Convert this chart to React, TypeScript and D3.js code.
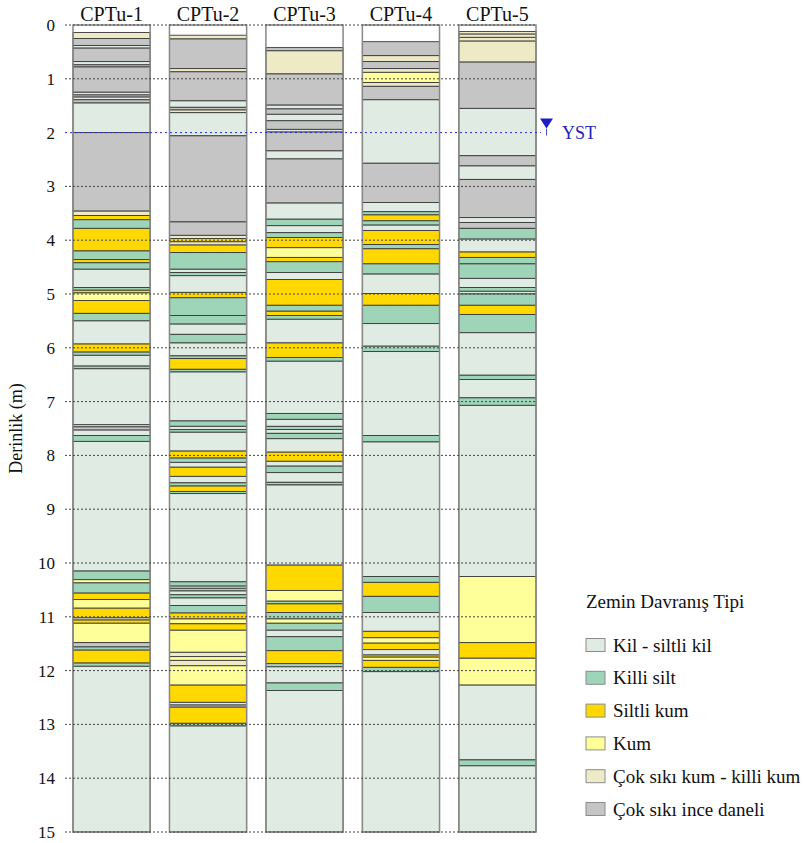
import React from 'react'
import * as d3 from 'd3'

const width = 803
const height = 843
const font = "'Liberation Serif', 'Times New Roman', serif"

const boreholes = ['CPTu-1', 'CPTu-2', 'CPTu-3', 'CPTu-4', 'CPTu-5']
const soilTypes = [
    'Kil - siltli kil',
    'Killi silt',
    'Siltli kum',
    'Kum',
    'Çok sıkı kum - killi kum',
    'Çok sıkı ince daneli',
]
const soilColors = ['#dfebe3', '#9ed4b7', '#ffd800', '#ffff99', '#eeeac5', '#c6c5c6']
const depthTicks = [0, 1, 2, 3, 4, 5, 6, 7, 8, 9, 10, 11, 12, 13, 14, 15]
const maxDepth = 15
const waterTable = 2.0

// [top depth (m), soil type index] - a layer runs down to the next top (or 15 m)
const cptu1 = [
    [0.14, 4], [0.25, 5], [0.38, 0], [0.43, 5], [0.68, 0], [0.74, 5], [0.78, 5],
    [1.25, 0], [1.3, 5], [1.34, 0], [1.39, 5], [1.45, 0], [2.0, 5], [3.46, 4],
    [3.54, 2], [3.62, 1], [3.78, 2], [4.2, 1], [4.36, 2], [4.42, 1], [4.54, 0],
    [4.88, 1], [4.93, 2], [4.98, 3], [5.12, 2], [5.36, 1], [5.5, 0], [5.93, 2],
    [6.08, 1], [6.14, 0], [6.34, 1], [6.39, 0], [7.43, 0], [7.47, 5], [7.53, 0],
    [7.63, 1], [7.74, 0], [10.15, 1], [10.31, 3], [10.37, 1], [10.56, 2], [10.68, 3],
    [10.84, 2], [11.02, 0], [11.06, 2], [11.12, 3], [11.48, 5], [11.56, 1], [11.62, 2],
    [11.86, 1], [11.92, 0],
]
const cptu2 = [
    [0.19, 4], [0.26, 5], [0.81, 4], [0.87, 5], [1.41, 0], [1.53, 5], [1.58, 4],
    [1.63, 0], [2.06, 5], [3.66, 5], [3.91, 4], [3.97, 2], [4.03, 4], [4.09, 2],
    [4.23, 1], [4.54, 0], [4.6, 1], [4.66, 0], [4.97, 2], [5.07, 1], [5.4, 1],
    [5.56, 0], [5.75, 1], [5.91, 0], [6.15, 1], [6.2, 2], [6.4, 1], [6.45, 0],
    [7.36, 1], [7.46, 0], [7.52, 1], [7.57, 0], [7.92, 2], [8.05, 1], [8.13, 0],
    [8.22, 2], [8.39, 0], [8.51, 1], [8.57, 2], [8.67, 1], [8.71, 0], [10.35, 1],
    [10.43, 0], [10.47, 1], [10.52, 0], [10.59, 1], [10.65, 0], [10.79, 1], [10.93, 2],
    [11.04, 3], [11.13, 2], [11.25, 3], [11.66, 4], [11.74, 3], [11.81, 4], [11.91, 3],
    [12.27, 2], [12.59, 0], [12.64, 5], [12.68, 2], [12.98, 1], [13.03, 0],
]
const cptu3 = [
    [0.42, 5], [0.48, 4], [0.91, 5], [1.49, 0], [1.56, 5], [1.66, 0], [1.78, 5],
    [1.94, 0], [1.99, 5], [2.34, 0], [2.49, 5], [3.31, 0], [3.61, 1], [3.73, 0],
    [3.86, 1], [3.95, 2], [4.14, 3], [4.32, 2], [4.4, 1], [4.6, 0], [4.73, 2],
    [5.21, 1], [5.32, 2], [5.4, 1], [5.47, 0], [5.91, 2], [6.18, 1], [6.25, 0],
    [7.22, 1], [7.33, 0], [7.46, 1], [7.52, 0], [7.59, 1], [7.69, 0], [7.94, 2],
    [8.11, 0], [8.2, 1], [8.32, 0], [8.5, 1], [8.55, 0], [10.04, 2], [10.51, 3],
    [10.71, 1], [10.76, 2], [10.92, 1], [11.04, 3], [11.12, 1], [11.25, 0], [11.37, 1],
    [11.63, 2], [11.87, 1], [11.93, 0], [12.23, 1], [12.37, 0],
]
const cptu4 = [
    [0.31, 5], [0.57, 4], [0.68, 5], [0.81, 4], [0.88, 3], [1.07, 4], [1.14, 5],
    [1.39, 0], [2.57, 5], [3.3, 0], [3.47, 1], [3.53, 2], [3.64, 1], [3.72, 0],
    [3.82, 2], [4.08, 1], [4.16, 2], [4.44, 1], [4.63, 0], [4.99, 2], [5.21, 1],
    [5.55, 0], [5.97, 1], [6.07, 0], [7.63, 1], [7.75, 0], [10.25, 1], [10.36, 2],
    [10.62, 1], [10.92, 0], [11.27, 2], [11.39, 3], [11.49, 2], [11.61, 0], [11.71, 2],
    [11.75, 3], [11.81, 2], [11.94, 1], [12.02, 0],
]
const cptu5 = [
    [0.12, 4], [0.17, 4], [0.23, 4], [0.3, 4], [0.69, 5], [1.55, 0], [2.43, 5],
    [2.62, 0], [2.87, 5], [3.58, 0], [3.67, 5], [3.78, 1], [3.98, 0], [4.22, 2],
    [4.32, 1], [4.44, 1], [4.71, 0], [4.88, 1], [4.95, 0], [5.0, 1], [5.21, 2],
    [5.38, 1], [5.72, 0], [6.51, 1], [6.59, 0], [6.93, 1], [7.07, 0], [10.25, 3],
    [11.48, 2], [11.77, 3], [12.27, 0], [13.66, 1], [13.77, 0],
]
const logs = [cptu1, cptu2, cptu3, cptu4, cptu5]

export default function App() {
    const x = d3.scaleBand().domain(boreholes).range([73, 536]).paddingInner(0.2).paddingOuter(0)
    const y = d3.scaleLinear().domain([0, maxDepth]).range([25, 832])
    const bw = x.bandwidth()
    const gridX0 = 65
    const gridX1 = (x(boreholes[boreholes.length - 1]) as number) + bw
    const yw = y(waterTable)

    return (
        <svg
            width={width}
            height={height}
            style={{ position: 'absolute', left: 0, top: 0, background: '#fff' }}
            fontFamily={font}
        >
            {boreholes.map((name, i) => {
                const x0 = x(name) as number
                const layers = logs[i]
                return (
                    <g key={name}>
                        <rect x={x0} y={y(0)} width={bw} height={y(maxDepth) - y(0)} fill="#fff" />
                        {layers.map(([top, t], j) => {
                            const bottom = j < layers.length - 1 ? layers[j + 1][0] : maxDepth
                            return (
                                <rect
                                    key={j}
                                    x={x0}
                                    y={y(top)}
                                    width={bw}
                                    height={y(bottom) - y(top)}
                                    fill={soilColors[t]}
                                    stroke="#3a3a3a"
                                    strokeWidth={0.9}
                                />
                            )
                        })}
                        <rect
                            x={x0}
                            y={y(0)}
                            width={bw}
                            height={y(maxDepth) - y(0)}
                            fill="none"
                            stroke="#888"
                            strokeWidth={1.5}
                        />
                        <text x={x0 + bw / 2} y={21} textAnchor="middle" fontSize={20} fill="#111" fontFamily={font}>
                            {name}
                        </text>
                    </g>
                )
            })}

            {/* dotted depth grid, drawn over the logs */}
            {depthTicks
                .filter((d) => d !== waterTable)
                .map((d) => (
                    <line
                        key={d}
                        x1={gridX0}
                        x2={gridX1}
                        y1={y(d)}
                        y2={y(d)}
                        stroke="#444"
                        strokeWidth={1}
                        strokeDasharray="2,2"
                    />
                ))}
            {depthTicks.map((d) => (
                <text key={d} x={55} y={y(d)} dy="0.35em" textAnchor="end" fontSize={17} fill="#111" fontFamily={font}>
                    {d}
                </text>
            ))}
            <text
                transform={`translate(22, ${(y(0) + y(maxDepth)) / 2}) rotate(-90)`}
                textAnchor="middle"
                fontSize={18}
                fill="#111"
                fontFamily={font}
            >
                Derinlik (m)
            </text>

            {/* water table */}
            <line x1={gridX0} x2={541} y1={yw} y2={yw} stroke="#2b2bd0" strokeWidth={1} strokeDasharray="2,3" />
            <path d={`M540,${yw - 14}L553,${yw - 14}L546.5,${yw - 4}Z`} fill="#1c1cc8" />
            <line x1={546.5} x2={546.5} y1={yw - 4} y2={yw + 3} stroke="#1c1cc8" strokeWidth={0.8} />
            <text x={562} y={yw + 6} fontSize={18} fill="#2323b8" fontFamily={font}>
                YST
            </text>

            {/* legend */}
            <text x={586} y={608} fontSize={19} fill="#111" fontFamily={font}>
                Zemin Davranış Tipi
            </text>
            {soilTypes.map((s, i) => {
                const cy = 645 + i * 32.8
                return (
                    <g key={s}>
                        <rect x={586} y={cy - 6.5} width={19} height={13} fill={soilColors[i]} stroke="#8c8c8c" strokeWidth={1} />
                        <text x={613} y={cy + 6.5} fontSize={19} fill="#111" fontFamily={font}>
                            {s}
                        </text>
                    </g>
                )
            })}
        </svg>
    )
}
